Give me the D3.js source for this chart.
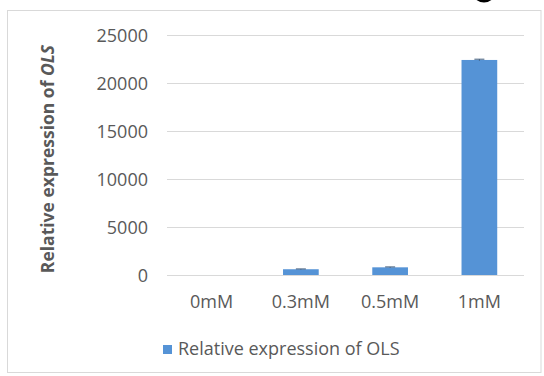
<!DOCTYPE html>
<html>
<head>
<meta charset="utf-8">
<script src="https://cdn.jsdelivr.net/npm/d3@7"></script>
<style>
  html, body { margin: 0; padding: 0; background: #fff; }
  svg { display: block; }
  text { font-family: "Open Sans", "Noto Sans", sans-serif; }
</style>
</head>
<body>
<svg id="chart" width="544" height="376"></svg>
<script>
// Concentrations and relative OLS expression
const categories = ["0mM", "0.3mM", "0.5mM", "1mM"];
const values = [1, 600, 800, 22400];
const errors = [0, 30, 40, 80];
const yTicks = [0, 5000, 10000, 15000, 20000, 25000];
const seriesName = "Relative expression of OLS";

const svg = d3.select("#chart");
const W = 544, H = 376;

svg.append("rect").attr("width", W).attr("height", H).attr("fill", "#fff");

// dark curve peeking in above the chart frame
svg.append("path")
  .attr("d", "M474,-2 Q484,7 494,-2 L494,-6 L474,-6 Z")
  .attr("fill", "#000");

// chart frame
svg.append("rect")
  .attr("x", 7.5).attr("y", 10.5)
  .attr("width", 533.5).attr("height", 362)
  .attr("fill", "#fff")
  .attr("stroke", "#d9d9d9")
  .attr("stroke-width", 1);

const plot = { left: 167, right: 524, top: 35, bottom: 275 };

const x = d3.scaleBand()
  .domain(categories)
  .range([plot.left, plot.right])
  .paddingInner(0.6)
  .paddingOuter(0.3);

const y = d3.scaleLinear()
  .domain([0, 25000])
  .range([plot.bottom, plot.top]);

// gridlines + tick labels via axis
const yAxis = d3.axisLeft(y)
  .tickValues(yTicks)
  .tickSize(-(plot.right - plot.left))
  .tickPadding(19)
  .tickFormat(d3.format("d"));

const gy = svg.append("g")
  .attr("transform", `translate(${plot.left},0)`)
  .call(yAxis);
gy.select(".domain").remove();
gy.selectAll(".tick line").attr("stroke", "#d9d9d9").attr("stroke-width", 1);
gy.selectAll(".tick text")
  .attr("fill", "#595959")
  .style("font-size", "18px")
  .attr("dy", "0.36em");

// x axis labels
const xAxis = d3.axisBottom(x).tickSize(0).tickPadding(20);
const gx = svg.append("g")
  .attr("transform", `translate(0,${plot.bottom})`)
  .call(xAxis);
gx.select(".domain").remove();
gx.selectAll(".tick text")
  .attr("fill", "#595959")
  .style("font-size", "18px");

// bars
svg.append("g").selectAll("rect")
  .data(categories)
  .join("rect")
  .attr("x", d => x(d))
  .attr("width", x.bandwidth())
  .attr("y", (d, i) => y(values[i]))
  .attr("height", (d, i) => y(0) - y(values[i]))
  .attr("fill", "#5593d6");

// error bars
const eb = svg.append("g").attr("stroke", "#3f5a7a").attr("stroke-width", 1);
categories.forEach((c, i) => {
  if (!errors[i]) return;
  const cx = x(c) + x.bandwidth() / 2;
  const y1 = y(values[i] + errors[i]);
  const y0 = y(values[i] - errors[i]);
  eb.append("line").attr("x1", cx).attr("x2", cx).attr("y1", y1).attr("y2", y0);
  eb.append("line").attr("x1", cx - 5).attr("x2", cx + 5).attr("y1", y1).attr("y2", y1);
});

// y axis title
const yt = svg.append("text")
  .attr("transform", `translate(54,159) rotate(-90)`)
  .attr("text-anchor", "middle")
  .attr("fill", "#595959")
  .style("font-weight", "bold")
  .style("font-size", "17.5px");
yt.append("tspan").text("Relative expression of ");
yt.append("tspan").style("font-style", "italic").text("OLS");

// legend
const lg = svg.append("g").attr("transform", "translate(163,345)");
lg.append("rect").attr("width", 9).attr("height", 9).attr("fill", "#5593d6");
lg.append("text")
  .attr("x", 15).attr("y", 10)
  .attr("fill", "#595959")
  .style("font-size", "18px")
  .text(seriesName);
</script>
</body>
</html>
